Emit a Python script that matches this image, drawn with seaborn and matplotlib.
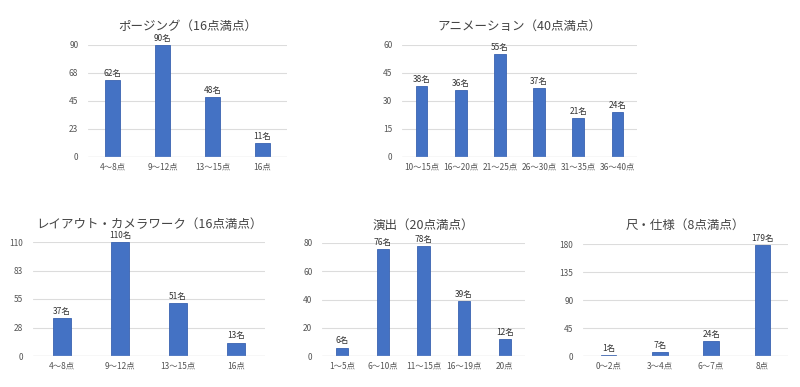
import matplotlib
matplotlib.use("Agg")
import matplotlib.pyplot as plt
import seaborn as sns
import numpy as np
import pandas as pd

# --- DATA ---
posing_cats = ["4〜8点", "9〜12点", "13〜15点", "16点"]
posing_vals = [62, 90, 48, 11]

anime_cats = ["10〜15点", "16〜20点", "21〜25点", "26〜30点", "31〜35点", "36〜40点"]
anime_vals = [38, 36, 55, 37, 21, 24]

layout_cats = ["4〜8点", "9〜12点", "13〜15点", "16点"]
layout_vals = [37, 110, 51, 13]

direction_cats = ["1〜5点", "6〜10点", "11〜15点", "16〜19点", "20点"]
direction_vals = [6, 76, 78, 39, 12]

scale_cats = ["0〜2点", "3〜4点", "6〜7点", "8点"]
scale_vals = [1, 7, 24, 179]

titles = ["ポージング（16点満点）", "アニメーション（40点満点）",
          "レイアウト・カメラワーク（16点満点）", "演出（20点満点）", "尺・仕様（8点満点）"]
y_max = [90, 60, 110, 80, 180]

sns.set_style("white")
plt.rcParams['font.family'] = ['Noto Sans CJK JP', 'DejaVu Sans']

W, H = 800, 387
fig = plt.figure(figsize=(8, 3.87), dpi=100)

# axes boxes in pixels: left, top, right, bottom
boxes = [(88, 45, 287, 157), (402, 45, 637, 157),
         (33, 242, 265, 356), (322, 243, 525, 356), (583, 244, 788, 356)]
title_y = [26, 26, 224, 225, 225]

datasets = [(posing_cats, posing_vals), (anime_cats, anime_vals),
            (layout_cats, layout_vals), (direction_cats, direction_vals),
            (scale_cats, scale_vals)]

for i, ((cats, vals), (l, t, r, b)) in enumerate(zip(datasets, boxes)):
    ax = fig.add_axes([l / W, 1 - b / H, (r - l) / W, (b - t) / H])
    df = pd.DataFrame({"cat": cats, "val": vals})
    sns.barplot(data=df, x="cat", y="val", ax=ax, color="#4472C4",
                saturation=1, width=0.3, edgecolor="#3a63b0", linewidth=0.6)
    ticks = np.linspace(0, y_max[i], 5)
    ax.set_ylim(0, y_max[i])
    ax.set_yticks(ticks)
    ax.set_yticklabels([str(int(v + 0.5)) for v in ticks])
    ax.set_xlim(-0.5, len(cats) - 0.5)
    ax.yaxis.grid(True, color="#dcdcdc", linewidth=0.8)
    ax.set_axisbelow(True)
    sns.despine(ax=ax, left=True, bottom=True)
    ax.axhline(0, color="#cfcfcf", linewidth=0.9)
    ax.tick_params(axis="both", length=0, labelsize=6, labelcolor="#555555")
    ax.tick_params(axis="y", pad=7)
    ax.tick_params(axis="x", pad=4)
    ax.set_xlabel("")
    ax.set_ylabel("")
    for x, v in enumerate(vals):
        ax.annotate(f"{v}名", (x, v), xytext=(0, 1.5), textcoords="offset points",
                    ha="center", va="bottom", fontsize=6, color="#333333")
    cx = (l + r) / 2
    fig.text(cx / W, 1 - title_y[i] / H, titles[i], ha="center", va="center",
             fontsize=9, color="#444444")

fig.savefig("out.png", dpi=100)
